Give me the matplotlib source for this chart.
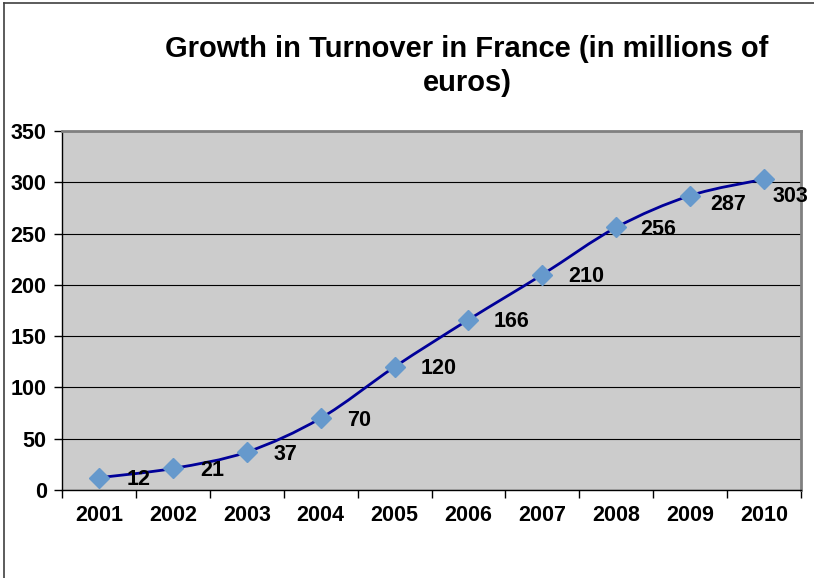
import matplotlib.pyplot as plt
from matplotlib.path import Path
from matplotlib.patches import PathPatch
from matplotlib.lines import Line2D

years = ['2001', '2002', '2003', '2004', '2005', '2006', '2007', '2008', '2009', '2010']
turnover = [12, 21, 37, 70, 120, 166, 210, 256, 287, 303]
# label offsets (pixels) for the data labels, right of each point
label_dx = [28, 27, 27, 26, 26, 25, 26, 24, 20, 8]
label_dy = [-2, -2, -2, -2, -2, -2, -2, -2, -9, -17]

plt.rcParams['font.family'] = ['Liberation Sans', 'DejaVu Sans']
plt.rcParams['font.weight'] = 'bold'

fig = plt.figure(figsize=(8.14, 5.78), dpi=100)
# frame of the chart area (left and top edges)
fig.lines.append(Line2D([3.5 / 814, 3.5 / 814], [0, 1 - 2.5 / 578], transform=fig.transFigure,
                        color='#404040', linewidth=1.2))
fig.lines.append(Line2D([3.5 / 814, 1], [1 - 2.5 / 578, 1 - 2.5 / 578], transform=fig.transFigure,
                        color='#404040', linewidth=1.2))

ax = fig.add_axes([62 / 814, 88 / 578, 739 / 814, 359 / 578])
ax.set_facecolor('#CCCCCC')

x = list(range(len(years)))

# smooth line (Catmull-Rom style bezier through the points)
verts = [(x[0], turnover[0])]
codes = [Path.MOVETO]
n = len(x)
for i in range(n - 1):
    p0 = (x[max(i - 1, 0)], turnover[max(i - 1, 0)])
    p1 = (x[i], turnover[i])
    p2 = (x[i + 1], turnover[i + 1])
    p3 = (x[min(i + 2, n - 1)], turnover[min(i + 2, n - 1)])
    c1 = (p1[0] + (p2[0] - p0[0]) / 6, p1[1] + (p2[1] - p0[1]) / 6)
    c2 = (p2[0] - (p3[0] - p1[0]) / 6, p2[1] - (p3[1] - p1[1]) / 6)
    verts += [c1, c2, p2]
    codes += [Path.CURVE4] * 3
ax.add_patch(PathPatch(Path(verts, codes), fill=False, edgecolor='#000099', linewidth=2, zorder=3))

ax.plot(x, turnover, linestyle='none', marker='D', markersize=10,
        markerfacecolor='#6699CC', markeredgecolor='#6699CC', zorder=4)

for i, v in enumerate(turnover):
    ax.annotate(str(v), (x[i], v), xytext=(label_dx[i] * 0.72, label_dy[i] * 0.72),
                textcoords='offset points', ha='left', va='center', fontsize=15.5, fontweight='bold')

ax.set_xlim(-0.5, n - 0.5)
ax.set_ylim(0, 350)
ax.set_yticks(range(0, 351, 50))
ax.set_xticks([i - 0.5 for i in range(n + 1)])
ax.set_xticklabels([])
ax.set_xticks(x, minor=True)
ax.set_xticklabels(years, minor=True)
ax.tick_params(axis='x', which='minor', length=0, pad=11, labelsize=15.5)
ax.tick_params(axis='x', which='major', length=6, direction='out', width=1)
ax.tick_params(axis='y', length=6, direction='out', width=1, labelsize=15.5, pad=5)
ax.grid(axis='y', color='black', linewidth=0.8)
ax.set_axisbelow(True)

for side in ['top', 'right']:
    ax.spines[side].set_color('#808080')
    ax.spines[side].set_linewidth(2)
for side in ['left', 'bottom']:
    ax.spines[side].set_color('black')
    ax.spines[side].set_linewidth(1)

fig.text(467 / 814, 1 - 66 / 578, 'Growth in Turnover in France (in millions of\neuros)',
         ha='center', va='center', fontsize=21, fontweight='bold', linespacing=1.25)

fig.savefig('out.png', dpi=100)
